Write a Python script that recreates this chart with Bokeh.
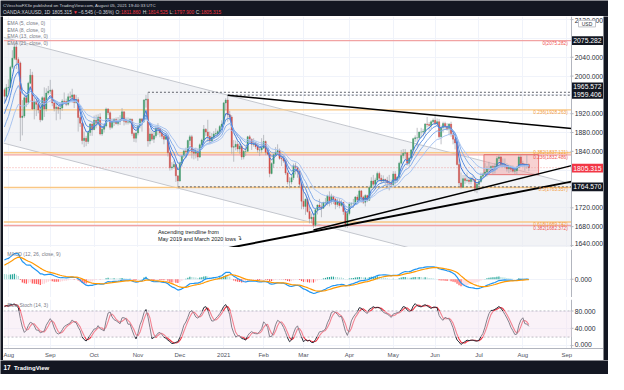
import numpy as np
import pandas as pd
from bokeh.plotting import figure
from bokeh.layouts import column, row
from bokeh.models import Range1d, FixedTicker, Label, BoxAnnotation
from bokeh.core.properties import value
from bokeh.embed import file_html
from bokeh.resources import INLINE

FONT = "Liberation Sans"
DARK = "#131722"
GRID = "#f0f3fa"
AXIS = "#b2b5be"

# ---------------- data (XAUUSD daily, estimated) ----------------
warmup_close = [1739, 1727, 1699, 1714, 1684, 1697, 1716, 1737, 1729, 1730, 1726, 1727, 1727, 1722, 1744,
                1755, 1768, 1761, 1763, 1771, 1772, 1781,
                1770, 1775, 1774, 1784, 1795, 1810, 1803, 1799, 1802, 1809, 1808, 1796, 1810, 1818, 1842,
                1871, 1888, 1902, 1941, 1958, 1971]
warmup_high = [1745, 1745, 1729, 1718, 1727, 1705, 1720, 1739, 1745, 1744, 1731, 1735, 1733, 1733, 1746,
               1759, 1779, 1779, 1768, 1772, 1774, 1785,
               1789, 1778, 1777, 1787, 1797, 1818, 1818, 1806, 1817, 1811, 1817, 1812, 1813, 1821, 1843,
               1874, 1898, 1907, 1945, 1981, 1975]
warmup_low = [1720, 1722, 1693, 1693, 1670, 1676, 1694, 1710, 1718, 1723, 1704, 1719, 1717, 1716, 1721,
              1743, 1753, 1756, 1752, 1757, 1761, 1766,
              1762, 1758, 1769, 1767, 1774, 1793, 1796, 1796, 1797, 1791, 1800, 1795, 1793, 1805, 1814,
              1833, 1866, 1881, 1901, 1925, 1941]

close = [1957, 1975,
         1976, 2019, 2038, 2062, 2035, 2028, 1912, 1915, 1954, 1944, 1985, 2002, 1930, 1946, 1940, 1928, 1907, 1954, 1930, 1964, 1968,
         1970, 1943, 1931, 1934, 1930, 1932, 1947, 1946, 1940, 1956, 1955, 1960, 1944, 1950, 1912, 1900, 1863, 1868, 1861, 1880, 1898, 1886,
         1906, 1900, 1913, 1877, 1887, 1894, 1930, 1922, 1891, 1902, 1908, 1899, 1904, 1907, 1924, 1904, 1902, 1902, 1908, 1878, 1868, 1879,
         1894, 1909, 1904, 1949, 1951, 1862, 1877, 1866, 1873, 1889, 1888, 1879, 1872, 1866, 1871, 1837, 1805, 1807, 1812, 1788, 1777,
         1815, 1830, 1841, 1839, 1863, 1871, 1839, 1836, 1840, 1828, 1854, 1864, 1887, 1881, 1872, 1862, 1870, 1877, 1878, 1882, 1893, 1898,
         1943, 1949, 1918, 1913, 1849, 1850, 1855, 1845, 1851, 1828, 1840, 1840, 1871, 1866, 1855, 1856, 1850, 1843, 1843, 1847,
         1861, 1838, 1834, 1793, 1814, 1833, 1838, 1842, 1825, 1824, 1820, 1794, 1775, 1775, 1784, 1809, 1806, 1797, 1770, 1734,
         1723, 1738, 1712, 1697, 1700, 1683, 1716, 1726, 1722, 1719, 1731, 1731, 1745, 1735, 1745, 1739, 1727, 1734, 1725, 1732, 1712, 1685, 1708,
         1728, 1729, 1729, 1743, 1737, 1756, 1743, 1732, 1746, 1736, 1763, 1777, 1770, 1779, 1793, 1783, 1777, 1780, 1778, 1773, 1772, 1769,
         1792, 1779, 1785, 1815, 1831, 1836, 1837, 1815, 1826, 1843, 1867, 1869, 1869, 1881, 1881, 1882, 1898, 1897, 1895, 1903, 1906,
         1899, 1903, 1871, 1891, 1899, 1893, 1888, 1898, 1877, 1866, 1858, 1812, 1773, 1764, 1782, 1778, 1779, 1776, 1781, 1780, 1761, 1770,
         1776, 1787, 1792, 1796, 1803, 1803, 1808, 1806, 1808, 1825, 1828, 1812, 1812, 1810, 1803, 1806, 1802, 1798, 1799, 1806, 1828, 1814,
         1813, 1810, 1811.86, 1805.315]
high = [1975, 1983,
        1993, 2022, 2055, 2069, 2075.3, 2040, 2031, 1949, 1960, 1960, 1988, 2015, 2009, 1953, 1951, 1951, 1941, 1957, 1976, 1974, 1979,
        1992, 1973, 1950, 1946, 1937, 1944, 1951, 1965, 1952, 1963, 1967, 1973, 1962, 1960, 1955, 1917, 1901, 1882, 1873, 1882, 1900, 1900,
        1916, 1918, 1919, 1921, 1894, 1897, 1933, 1932, 1925, 1910, 1911, 1912, 1913, 1917, 1932, 1925, 1912, 1912, 1911, 1910, 1881, 1882,
        1896, 1911, 1911, 1951, 1960, 1965.57, 1889, 1884, 1881, 1893, 1900, 1891, 1885, 1875, 1878, 1875, 1839, 1817, 1820, 1813, 1788,
        1818, 1832, 1843, 1848, 1865, 1875, 1875, 1845, 1848, 1846, 1857, 1867, 1896, 1889, 1907, 1882, 1879, 1883, 1889, 1886, 1896, 1906,
        1945, 1953, 1959.4, 1926, 1917, 1864, 1863, 1862, 1859, 1855, 1843, 1850, 1873, 1875, 1867, 1868, 1861, 1856, 1848, 1868,
        1875, 1863, 1845, 1835, 1817, 1835, 1849, 1855, 1846, 1830, 1830, 1822, 1797, 1785, 1790, 1814, 1816, 1808, 1800, 1771,
        1760, 1740, 1742, 1723, 1708, 1709, 1718, 1727, 1739, 1731, 1733, 1741, 1748, 1755, 1750, 1745, 1740, 1740, 1740, 1737, 1732, 1714, 1714,
        1732, 1732, 1739, 1745, 1748, 1759, 1758, 1746, 1749, 1748, 1767, 1785, 1790, 1784, 1797, 1797, 1790, 1789, 1782, 1786, 1790, 1780,
        1798, 1798, 1787, 1818, 1843, 1845, 1845, 1838, 1829, 1845, 1869, 1874, 1890, 1882, 1890, 1888, 1900, 1913, 1902, 1906, 1910,
        1916.6, 1910, 1909, 1895, 1903, 1903, 1900, 1900, 1903, 1879, 1870, 1867, 1823, 1795, 1790, 1790, 1795, 1786, 1786, 1788, 1782, 1773,
        1779, 1795, 1795, 1815, 1809, 1818, 1810, 1811, 1815, 1830, 1834, 1830, 1825, 1825, 1815, 1812, 1811, 1810, 1807, 1809, 1832, 1832,
        1820, 1815, 1832, 1814.525]
low = [1945, 1948,
       1966, 1975, 2015, 2034, 2015, 2008, 1862, 1874, 1911, 1934, 1940, 1983, 1928, 1908, 1915, 1921, 1902, 1905, 1913, 1925, 1960,
       1962, 1936, 1925, 1906, 1920, 1908, 1926, 1940, 1936, 1937, 1948, 1943, 1932, 1941, 1882, 1892, 1855, 1849, 1851, 1856, 1873, 1873,
       1886, 1889, 1895, 1874, 1873, 1880, 1891, 1917, 1886, 1888, 1894, 1897, 1895, 1896, 1906, 1895, 1897, 1897, 1899, 1873, 1860, 1859,
       1874, 1889, 1882, 1901, 1933, 1850, 1855, 1862, 1858, 1869, 1875, 1870, 1866, 1855, 1864, 1829, 1799, 1800, 1803, 1775, 1764.57,
       1776, 1807, 1826, 1826, 1833, 1853, 1825, 1823, 1825, 1820, 1826, 1851, 1857, 1873, 1860, 1856, 1861, 1866, 1872, 1871, 1874, 1890,
       1901, 1927, 1903, 1906, 1835, 1818, 1842, 1839, 1835, 1822, 1823, 1830, 1840, 1859, 1843, 1850, 1845, 1837, 1830, 1836,
       1845, 1832, 1832, 1785, 1791, 1805, 1829, 1835, 1822, 1809, 1816, 1790, 1770, 1761, 1770, 1779, 1791, 1784, 1765, 1717,
       1717, 1705, 1710, 1687, 1687, 1677, 1680, 1706, 1716, 1700, 1719, 1723, 1725, 1723, 1727, 1728, 1717, 1722, 1719, 1722, 1705, 1678, 1677,
       1704, 1720, 1720, 1726, 1733, 1735, 1731, 1728, 1723, 1732, 1735, 1762, 1765, 1760, 1776, 1776, 1772, 1773, 1768, 1766, 1757, 1763,
       1766, 1770, 1774, 1784, 1812, 1825, 1823, 1810, 1808, 1825, 1840, 1860, 1850, 1865, 1869, 1872, 1876, 1891, 1884, 1888, 1899,
       1897, 1894, 1868, 1855, 1880, 1886, 1884, 1874, 1871, 1855, 1844, 1810, 1767, 1761, 1767, 1771, 1774, 1770, 1770, 1775, 1753, 1751,
       1757, 1773, 1783, 1790, 1786, 1795, 1795, 1791, 1793, 1801, 1819, 1810, 1806, 1804, 1797, 1794, 1796, 1795, 1792, 1790, 1804, 1808,
       1807, 1799, 1803, 1797.9]

month_labels = ["Aug", "Sep", "Oct", "Nov", "Dec", "2021", "Feb", "Mar", "Apr", "May", "Jun", "Jul", "Aug", "Sep"]
price_grid = [1640, 1680, 1720, 1760, 1800, 1840, 1880, 1920, 1960, 2000, 2040, 2080, 2120]
price_labels = [1640, 1680, 1720, 1840, 1880, 1920, 2000, 2040, 2120]
macd_labels = [0]
stoch_labels = [0, 40, 80]

fib_orange_levels = [1928.263, 1837.121, 1763.357, 1689.742]
fib_orange_text = ["0.236(1928.263)", "0.382(1837.121)", "0.5(1763.357)", "0.618(1689.742)"]
fib_red_levels = [2075.282, 1832.486, 1682.372]
fib_red_text = ["0(2075.282)", "0.236(1832.486)", "0.382(1682.372)"]

badge_values = [2075.282, 1965.572, 1959.406, 1805.315, 1764.570]
badge_pos = [2075.282, 1977.0, 1960.9, 1804.3, 1764.570]
badge_colors = [DARK, DARK, DARK, "#f23645", DARK]

channel_x = [-0.45, 284.4]
channel_upper = [2082.4, 1771.0]
channel_lower = [1857.5, 1546.2]
resist_x, resist_y = [112, 284.4], [1959.4, 1888.5]
support1_x, support1_y = [155, 284.4], [1673.0, 1809.6]
support2_x, support2_y = [110, 284.4], [1632.7, 1775.7]
box_x, box_y = [240.5, 267.9], [1790.5, 1833.1]
dashed_levels = [1965.572, 1959.406, 1764.570]
dashed_start = [72, 112, 87]
last_price = 1805.315

# ---------------- calculations ----------------
n = min(len(close), len(high), len(low))
nw = len(warmup_close)
fc = np.array(warmup_close + close[:n], float)
fh = np.array(warmup_high + high[:n], float)
fl = np.array(warmup_low + low[:n], float)
fo = np.r_[fc[0], fc[:-1]]
fh = np.maximum.reduce([fh, fo, fc])
fl = np.minimum.reduce([fl, fo, fc])


def ema(a, span):
    return pd.Series(a).ewm(span=span, adjust=False).mean().to_numpy()


idx = np.arange(n)
O, H, L, C = fo[nw:], fh[nw:], fl[nw:], fc[nw:]
emas = {k: ema(fc, k)[nw:] for k in (5, 8, 13, 21)}
macd_full = ema(fc, 12) - ema(fc, 26)
sig_full = ema(macd_full, 9)
hist_full = macd_full - sig_full
macd, sig, hist = macd_full[nw:], sig_full[nw:], hist_full[nw:]
ll = pd.Series(fl).rolling(14).min()
hh = pd.Series(fh).rolling(14).max()
fastk = 100 * (pd.Series(fc) - ll) / (hh - ll)
slowk = fastk.rolling(3).mean()
slowd = slowk.rolling(3).mean()
K, D = slowk.to_numpy()[nw:], slowd.to_numpy()[nw:]

dates_all = pd.bdate_range("2020-07-30", "2021-09-30")
dates_all = dates_all[~dates_all.isin(pd.to_datetime(["2020-12-25", "2021-01-01"]))]
months = pd.period_range("2020-08", "2021-09", freq="M")
month_idx = [int(np.argmax((dates_all.year == m.year) & (dates_all.month == m.month))) for m in months]

# ---------------- layout ----------------
FW = 600                      # frame = chart area (568px) + price-scale strip (32px)
XMAX = channel_x[1]           # price scale line
PXB = 568.0 / (XMAX - channel_x[0])   # pixels per bar
XEND = channel_x[0] + FW / PXB
xr = Range1d(channel_x[0], XEND)


def pane(h, yr, grid_ticks, bottom=0):
    f = figure(frame_width=FW, frame_height=h, x_range=xr, y_range=yr,
               x_axis_location=("below" if bottom else None), y_axis_location=None,
               toolbar_location=None, output_backend="svg",
               min_border_left=0, min_border_right=0, min_border_top=0, min_border_bottom=bottom)
    f.outline_line_color = None
    f.background_fill_color = "white"
    f.border_fill_color = "white"
    f.xgrid.ticker = FixedTicker(ticks=month_idx)
    f.xgrid.grid_line_color = GRID
    f.ygrid.ticker = FixedTicker(ticks=grid_ticks)
    f.ygrid.grid_line_color = GRID
    return f


def price_scale(f, h, ticks):
    y0, y1 = f.y_range.start, f.y_range.end
    ppu = h / (y1 - y0)
    mg = 4.0 / ppu
    ypos = [min(max(t, y0 + mg), y1 - mg) for t in ticks]
    f.quad(left=[XMAX], right=[XEND], bottom=[y0], top=[y1], fill_color="white", line_color=None)
    f.line([XMAX, XMAX], [y0, y1], line_color=AXIS, line_width=1)
    f.segment(x0=[XMAX - 1 / PXB] * len(ticks), y0=ticks, x1=[XMAX + 2 / PXB] * len(ticks), y1=ticks,
              line_color=AXIS, line_width=1)
    f.text(x=[XMAX + 3.3 / PXB] * len(ticks), y=ypos, text=["%.3f" % t for t in ticks],
           text_font=value(FONT), text_font_size="6.8px", text_color="#2a2e39",
           text_baseline="middle", text_align="left")


def badge(f, h, v, text, bg):
    ppu = h / (f.y_range.end - f.y_range.start)
    hh_ = 4.4 / ppu
    f.quad(left=[XMAX + 0.5 / PXB], right=[XMAX + 31.5 / PXB], bottom=[v - hh_], top=[v + hh_],
           fill_color=bg, line_color=None)
    f.text(x=[XMAX + 1.8 / PXB], y=[v], text=[text], text_font=value(FONT), text_font_size="6.8px",
           text_color="white", text_baseline="middle", text_align="left")


def lbl(f, x, y, text, size="5px", color="#787b86", align="left", base="middle", bold=False):
    f.add_layout(Label(x=x, y=y, text=text, text_font=FONT, text_font_size=size, text_color=color,
                       text_align=align, text_baseline=base,
                       text_font_style=("bold" if bold else "normal")))


def strip(w, h, color):
    f = figure(width=w, height=h, x_range=Range1d(0, w), y_range=Range1d(0, h),
               x_axis_location=None, y_axis_location=None, toolbar_location=None,
               output_backend="svg", min_border=0)
    f.background_fill_color = color
    f.border_fill_color = color
    f.outline_line_color = None
    f.grid.visible = False
    return f


CW = {"0": .556, "1": .556, "2": .556, "3": .556, "4": .556, "5": .556, "6": .556, "7": .556, "8": .556,
      "9": .556, ".": .278, ",": .278, ":": .278, " ": .278, "(": .333, ")": .333, "%": .889, "−": .584,
      "▼": .80, "O": .778, "A": .667, "N": .722, "D": .722, "X": .667, "U": .722, "S": .667, "H": .722,
      "L": .556, "C": .722}


def tw(s, size):
    return sum(CW.get(ch, .556) for ch in s) * size


# header
HS = 4.8
hd = strip(608, 16, DARK)
lbl(hd, 2.6, 11.2, "CVecchioFX3e published on TradingView.com, August 05, 2021 19:40:33 UTC",
    size="4.4px", color="#d1d4dc")
RED = "#f23645"
WH = "#d1d4dc"
pieces = [("OANDA:XAUUSD, 1D", WH, 1.6), ("1805.315", WH, 1.2), ("▼", RED, 1.2), ("−6.545 (−0.36%)", WH, 1.6),
          ("O:", WH, 0.5), ("1811.860", RED, 1.6), ("H:", WH, 0.5), ("1814.525", RED, 1.6),
          ("L:", WH, 0.5), ("1797.900", RED, 1.6), ("C:", WH, 0.5), ("1805.315", RED, 0)]
xpos = 2.6
for t, c, gap in pieces:
    lbl(hd, xpos, 4.5, t, size="%.1fpx" % HS, color=c)
    xpos += tw(t, HS) + gap

# main price pane
MH = 231
p = pane(MH, Range1d(1635.7, 2126.6), price_grid)
p.patch(x=[channel_x[0], channel_x[1], channel_x[1], channel_x[0]],
        y=[channel_upper[0], channel_upper[1], channel_lower[1], channel_lower[0]],
        fill_color="#e9ebf0", fill_alpha=0.6, line_color=None)
p.line(channel_x, channel_upper, line_color="#c3c6cd", line_width=1)
p.line(channel_x, channel_lower, line_color="#c3c6cd", line_width=1)
for v in fib_orange_levels:
    p.line(channel_x, [v, v], line_color="#f9c784", line_width=1.4)
for v in fib_red_levels:
    p.line(channel_x, [v, v], line_color="#f1a3a3", line_width=1.4)
p.line(channel_x, [last_price, last_price], line_color="#ef5350", line_alpha=0.5, line_width=1, line_dash="1 2")
for v, s0 in zip(dashed_levels, dashed_start):
    p.line([s0, channel_x[1]], [v, v], line_color="#50535e", line_width=0.9, line_dash="2 2")
p.quad(left=[box_x[0]], right=[box_x[1]], bottom=[box_y[0]], top=[box_y[1]],
       fill_color="#ef9a9a", fill_alpha=0.45, line_color="#e57373", line_width=1)

up_c, dn_c = "#3f9b6a", "#d0504d"
cols = [up_c if c >= o else dn_c for o, c in zip(O, C)]
p.segment(x0=idx, y0=H, x1=idx, y1=L, line_color="#a3a6ad", line_width=0.7)
p.vbar(x=idx, width=0.62, top=np.maximum(O, C), bottom=np.minimum(O, C),
       fill_color=cols, line_color=cols, line_width=0.4)
for k, c in zip((5, 8, 13, 21), ("#3c78d8", "#5c8fe0", "#86aee9", "#a9c4f0")):
    p.line(idx, emas[k], line_color=c, line_width=1)

p.line(resist_x, resist_y, line_color="black", line_width=1.5)
p.line(support1_x, support1_y, line_color="black", line_width=1.4)
p.line(support2_x, support2_y, line_color="black", line_width=2)

for v, t in zip(fib_orange_levels, fib_orange_text):
    lbl(p, 282.5, v, t, size="4.7px", color="#f39c3c", align="right",
        base=("middle" if t.startswith("0.382") else "top"))
for v, t in zip(fib_red_levels, fib_red_text):
    lbl(p, 282.5, v, t, size="4.7px", color="#ef5350", align="right", base="top")

for yv, k in zip([2112.4, 2098.2, 2084.6, 2071.2], (5, 8, 13, 21)):
    lbl(p, 1.4, yv, "EMA (%d, close, 0)" % k)

lbl(p, 77.0, 1667.6, "Ascending trendline from", size="5.5px", color="#131722")
lbl(p, 77.0, 1654.0, "May 2019 and March 2020 lows", size="5.5px", color="#131722")
lbl(p, 116.4, 1656.0, "↴", size="6px", color="#131722")

price_scale(p, MH, price_labels)
for v, t, bg in zip(badge_pos, badge_values, badge_colors):
    badge(p, MH, v, "%.3f" % t, bg)
ppu_m = MH / (p.y_range.end - p.y_range.start)
p.quad(left=[XMAX + 7 / PXB], right=[XMAX + 24 / PXB], bottom=[2111.4 - 3.3 / ppu_m], top=[2111.4 + 3.3 / ppu_m],
       fill_color="white", line_color=AXIS, line_width=0.8)
p.text(x=[XMAX + 15.5 / PXB], y=[2111.4], text=["USD"], text_font=value(FONT), text_font_size="5px",
       text_color="#2a2e39", text_baseline="middle", text_align="center")

sep1 = strip(FW, 2, "#d6d8de")

# MACD pane
lo_m = min(macd.min(), sig.min(), hist.min())
hi_m = max(macd.max(), sig.max(), hist.max())
pad = 0.1 * (hi_m - lo_m)
HH = 48
m = pane(HH, Range1d(lo_m - pad, hi_m + pad), macd_labels)
hprev = np.r_[hist_full[nw - 1], hist[:-1]]
hcol = [("#26a69a" if h > hp else "#b2dfdb") if h >= 0 else ("#ff5252" if h < hp else "#ffcdd2")
        for h, hp in zip(hist, hprev)]
m.vbar(x=idx, width=0.6, top=hist, bottom=0, fill_color=hcol, line_color=None)
m.line(idx, macd, line_color="#2196f3", line_width=1.2)
m.line(idx, sig, line_color="#ff9800", line_width=1.2)
lbl(m, 1.4, hi_m + pad - 0.1 * (hi_m - lo_m + 2 * pad), "MACD (12, 26, close, 9)")
price_scale(m, HH, macd_labels)

sep2 = strip(FW, 2, "#d6d8de")

# Stochastic pane
SH = 49
s = pane(SH, Range1d(-6.7, 106.7), stoch_labels, bottom=12)
s.add_layout(BoxAnnotation(bottom=20, top=80, right=XMAX, fill_color="#f3e3ef", fill_alpha=0.45, line_color=None))
s.line([channel_x[0], XMAX], [80, 80], line_color="#9598a1", line_dash="2 2", line_width=0.8)
s.line([channel_x[0], XMAX], [20, 20], line_color="#9598a1", line_dash="2 2", line_width=0.8)
s.line(idx, D, line_color="#f23645", line_width=1.1)
s.line(idx, K, line_color="#2a2e39", line_width=1.0)
lbl(s, 1.4, 93.4, "Slow Stoch (14, 3)")
price_scale(s, SH, stoch_labels)
xa = s.xaxis[0]
xa.ticker = FixedTicker(ticks=month_idx)
xa.major_label_overrides = {float(t): lab for t, lab in zip(month_idx, month_labels)}
xa.major_label_text_font = FONT
xa.major_label_text_font_size = "6px"
xa.major_label_text_color = "#50535e"
xa.axis_line_color = AXIS
xa.major_tick_line_color = None
xa.minor_tick_line_color = None
xa.major_tick_out = 0
xa.major_tick_in = 0
xa.major_label_standoff = 3

# footer
ft = strip(608, 14, DARK)
lbl(ft, 3.0, 6.6, "17", size="6.5px", color="#ffffff", bold=True)
lbl(ft, 13.5, 6.6, "TradingView", size="6px", color="#ffffff", bold=True)

BODY_H = MH + 2 + HH + 2 + SH + 12
body = row(strip(3, BODY_H, DARK), column(p, sep1, m, sep2, s), strip(5, BODY_H, DARK))
layout = column(hd, body, ft)
open("out.html", "w").write(file_html(layout, INLINE))
